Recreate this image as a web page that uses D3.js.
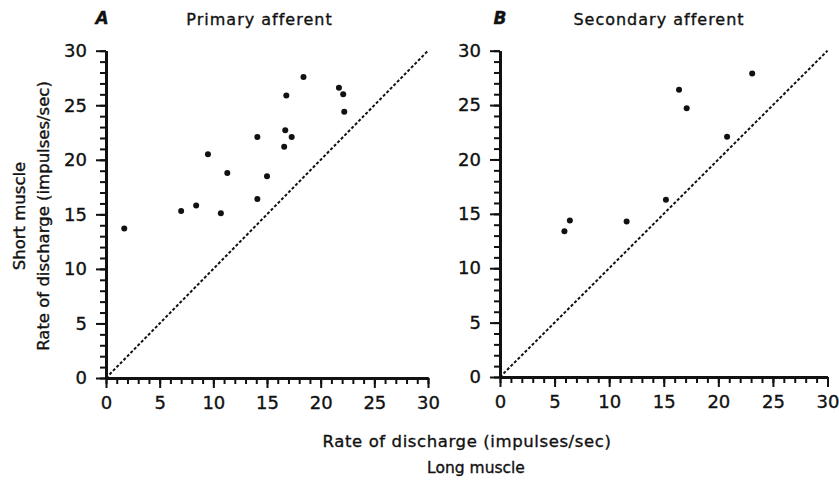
<!DOCTYPE html>
<html>
<head>
<meta charset="utf-8">
<script src="https://cdn.jsdelivr.net/npm/d3@7"></script>
<style>
  body { margin: 0; background: #fff; }
  svg { display: block; }
  text { font-family: "DejaVu Sans", sans-serif; fill: #111; stroke: #111; stroke-width: 0.35px; }
  .axis .domain { stroke: #111; stroke-width: 3; }
  .axis line { stroke: #111; stroke-width: 2; }
  .axis text { font-size: 18px; }
</style>
</head>
<body>
<svg width="839" height="487"></svg>
<script>
// values (impulses/sec)
var primaryLong  = [1.7, 7.0, 8.4, 9.5, 10.7, 11.3, 14.1, 14.1, 15.0, 16.6, 16.7, 16.8, 17.3, 18.4, 21.7, 22.1, 22.2];
var primaryShort = [13.7, 15.3, 15.8, 20.5, 15.1, 18.8, 22.1, 16.4, 18.5, 21.2, 22.7, 25.9, 22.1, 27.6, 26.6, 26.0, 24.4];
var secondaryLong  = [5.9, 6.4, 11.6, 15.2, 16.4, 17.1, 20.8, 23.1];
var secondaryShort = [13.4, 14.4, 14.3, 16.3, 26.4, 24.7, 22.1, 27.9];

var majorTicks = [0, 5, 10, 15, 20, 25, 30];
var minorTicks = d3.range(0, 31);
var diagonal = [0, 30];

var panels = [
  { letter: "A", title: "Primary afferent", xs: primaryLong, ys: primaryShort,
    x0: 106, x1: 428, y0: 378, y1: 50.7, letterX: 102, titleX: 259.5 },
  { letter: "B", title: "Secondary afferent", xs: secondaryLong, ys: secondaryShort,
    x0: 500, x1: 827.5, y0: 377, y1: 50.7, letterX: 500, titleX: 659 }
];

var svg = d3.select("svg");

panels.forEach(function (p) {
  var x = d3.scaleLinear().domain([0, 30]).range([p.x0, p.x1]);
  var y = d3.scaleLinear().domain([0, 30]).range([p.y0, p.y1]);
  var g = svg.append("g");

  // minor ticks
  g.append("g").attr("class", "axis")
    .attr("transform", "translate(0," + p.y0 + ")")
    .call(d3.axisBottom(x).tickValues(minorTicks).tickSize(6).tickSizeOuter(0).tickFormat(""));
  g.append("g").attr("class", "axis")
    .attr("transform", "translate(" + p.x0 + ",0)")
    .call(d3.axisLeft(y).tickValues(minorTicks).tickSize(6).tickSizeOuter(0).tickFormat(""));

  // major ticks + labels
  g.append("g").attr("class", "axis")
    .attr("transform", "translate(0," + p.y0 + ")")
    .call(d3.axisBottom(x).tickValues(majorTicks).tickSize(10).tickSizeOuter(0).tickPadding(8).tickFormat(d3.format("d")));
  g.append("g").attr("class", "axis")
    .attr("transform", "translate(" + p.x0 + ",0)")
    .call(d3.axisLeft(y).tickValues(majorTicks).tickSize(10).tickSizeOuter(0).tickPadding(9).tickFormat(d3.format("d")));

  // line of identity
  g.append("line")
    .attr("x1", x(diagonal[0])).attr("y1", y(diagonal[0]))
    .attr("x2", x(diagonal[1])).attr("y2", y(diagonal[1]))
    .attr("stroke", "#111")
    .attr("stroke-width", 2)
    .attr("stroke-dasharray", "3,2");

  g.selectAll("circle")
    .data(p.xs)
    .enter()
    .append("circle")
    .attr("cx", function (d) { return x(d); })
    .attr("cy", function (d, i) { return y(p.ys[i]); })
    .attr("r", 3)
    .attr("fill", "#111");

  svg.append("text")
    .attr("x", p.letterX).attr("y", 24)
    .attr("text-anchor", "middle")
    .style("font-size", "17px")
    .style("font-weight", "bold")
    .style("font-style", "italic")
    .text(p.letter);
  svg.append("text")
    .attr("x", p.titleX).attr("y", 25)
    .attr("text-anchor", "middle")
    .style("font-size", "16px")
    .style("letter-spacing", "1px")
    .text(p.title);
});

// axis titles
svg.append("text")
  .attr("transform", "translate(25,216) rotate(-90)")
  .attr("text-anchor", "middle")
  .style("font-size", "16.5px")
  .text("Short muscle");
svg.append("text")
  .attr("transform", "translate(49,216) rotate(-90)")
  .attr("text-anchor", "middle")
  .style("font-size", "16.5px")
  .text("Rate of discharge (impulses/sec)");
svg.append("text")
  .attr("x", 467).attr("y", 447)
  .attr("text-anchor", "middle")
  .style("font-size", "16.5px")
  .style("letter-spacing", "0.6px")
  .text("Rate of discharge (impulses/sec)");
svg.append("text")
  .attr("x", 476).attr("y", 473)
  .attr("text-anchor", "middle")
  .style("font-size", "15.5px")
  .text("Long muscle");
</script>
</body>
</html>
